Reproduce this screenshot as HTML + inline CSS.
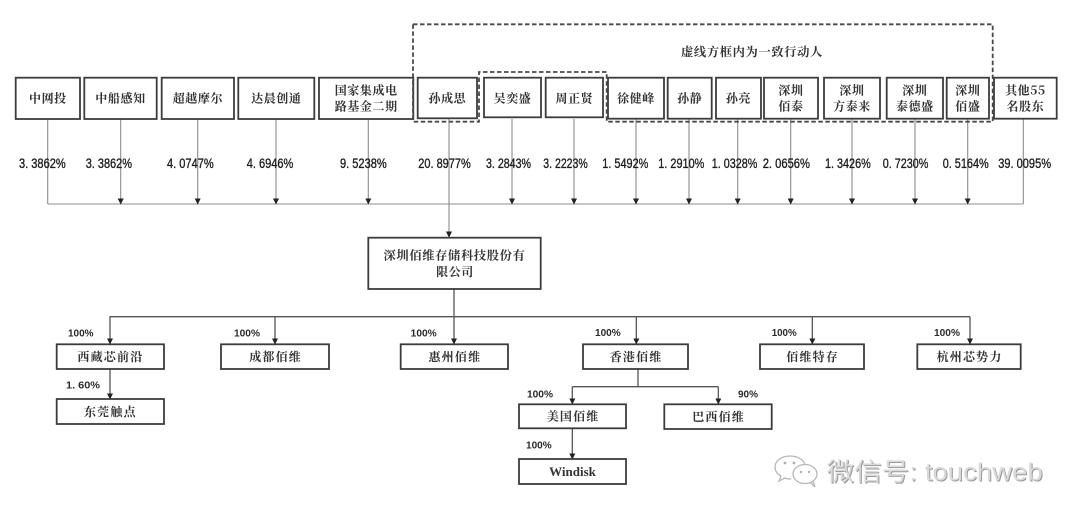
<!DOCTYPE html>
<html><head><meta charset="utf-8">
<style>
html,body{margin:0;padding:0;background:#fff;}
svg{display:block;}
.bx{font-family:"Noto Serif CJK SC","Liberation Serif",serif;font-weight:700;font-size:12px;fill:#333;letter-spacing:0.6px;}
.pc{font-family:"Liberation Sans",sans-serif;font-size:13.5px;fill:#1e1e1e;stroke:#1e1e1e;stroke-width:0.35px;}
.sm{font-family:"Liberation Sans",sans-serif;font-size:10px;font-weight:700;fill:#2a2a2a;}
.wm{font-family:"Liberation Sans","Noto Sans CJK SC",sans-serif;font-size:25px;}
</style></head>
<body>
<svg width="1080" height="520" viewBox="0 0 1080 520" xmlns="http://www.w3.org/2000/svg">
<rect width="1080" height="520" fill="#fff"/>

<!-- connector lines -->
<g stroke="#8c8c8c" stroke-width="1.1" fill="none">
  <line x1="47.7" y1="119" x2="47.7" y2="204"/>
  <line x1="120.7" y1="119" x2="120.7" y2="204"/>
  <line x1="197.7" y1="119" x2="197.7" y2="204"/>
  <line x1="276" y1="119" x2="276" y2="204"/>
  <line x1="368.3" y1="119" x2="368.3" y2="204"/>
  <line x1="449" y1="119" x2="449" y2="237"/>
  <line x1="512" y1="119" x2="512" y2="204"/>
  <line x1="574" y1="119" x2="574" y2="204"/>
  <line x1="636" y1="119" x2="636" y2="204"/>
  <line x1="689" y1="119" x2="689" y2="204"/>
  <line x1="737.7" y1="119" x2="737.7" y2="204"/>
  <line x1="790.7" y1="119" x2="790.7" y2="204"/>
  <line x1="852" y1="119" x2="852" y2="204"/>
  <line x1="915" y1="119" x2="915" y2="204"/>
  <line x1="967.7" y1="119" x2="967.7" y2="204"/>
  <line x1="1023.3" y1="119" x2="1023.3" y2="204"/>
  <line x1="47.7" y1="204" x2="1023.3" y2="204"/>
</g>
<g stroke="#555" stroke-width="1.3" fill="none">
  <line x1="454" y1="289" x2="454" y2="316.7"/>
  <line x1="109.5" y1="316.7" x2="970" y2="316.7"/>
  <line x1="110" y1="316.7" x2="110" y2="344"/>
  <line x1="275" y1="316.7" x2="275" y2="344"/>
  <line x1="454" y1="316.7" x2="454" y2="344"/>
  <line x1="636.3" y1="316.7" x2="636.3" y2="344"/>
  <line x1="812.3" y1="316.7" x2="812.3" y2="344"/>
  <line x1="970" y1="316.7" x2="970" y2="344"/>
  <line x1="110" y1="369" x2="110" y2="399"/>
  <line x1="638" y1="369" x2="638" y2="386.7"/>
  <line x1="572.3" y1="386.7" x2="718.3" y2="386.7"/>
  <line x1="572.3" y1="386.7" x2="572.3" y2="404"/>
  <line x1="718.3" y1="386.7" x2="718.3" y2="404"/>
  <line x1="572.3" y1="428.3" x2="572.3" y2="459"/>
</g>

<!-- arrowheads -->
<g fill="#222">
  <polygon points="117.7,198.5 123.7,198.5 120.7,204.5"/>
  <polygon points="194.7,198.5 200.7,198.5 197.7,204.5"/>
  <polygon points="273,198.5 279,198.5 276,204.5"/>
  <polygon points="365.3,198.5 371.3,198.5 368.3,204.5"/>
  <polygon points="509,198.5 515,198.5 512,204.5"/>
  <polygon points="571,198.5 577,198.5 574,204.5"/>
  <polygon points="633,198.5 639,198.5 636,204.5"/>
  <polygon points="686,198.5 692,198.5 689,204.5"/>
  <polygon points="734.7,198.5 740.7,198.5 737.7,204.5"/>
  <polygon points="787.7,198.5 793.7,198.5 790.7,204.5"/>
  <polygon points="849,198.5 855,198.5 852,204.5"/>
  <polygon points="912,198.5 918,198.5 915,204.5"/>
  <polygon points="964.7,198.5 970.7,198.5 967.7,204.5"/>
  <polygon points="446,231.5 452,231.5 449,237.7"/>
  <polygon points="107,338.5 113,338.5 110,344.5"/>
  <polygon points="272,338.5 278,338.5 275,344.5"/>
  <polygon points="451,338.5 457,338.5 454,344.5"/>
  <polygon points="633.3,338.5 639.3,338.5 636.3,344.5"/>
  <polygon points="809.3,338.5 815.3,338.5 812.3,344.5"/>
  <polygon points="967,338.5 973,338.5 970,344.5"/>
  <polygon points="107,393.5 113,393.5 110,399.5"/>
  <polygon points="569.3,398.5 575.3,398.5 572.3,404.5"/>
  <polygon points="715.3,398.5 721.3,398.5 718.3,404.5"/>
  <polygon points="569.3,453.5 575.3,453.5 572.3,459.5"/>
</g>

<!-- top boxes -->
<g fill="#fff" stroke="#3c3c3c" stroke-width="1.8">
  <rect x="15.7" y="77.7" width="64.3" height="41.3"/>
  <rect x="84.3" y="77.7" width="72.4" height="41.3"/>
  <rect x="161.7" y="77.7" width="72.3" height="41.3"/>
  <rect x="238.3" y="77.7" width="76" height="41.3"/>
  <rect x="319" y="77.7" width="94.3" height="41.3"/>
  <rect x="417.7" y="77.7" width="59.3" height="40.6"/>
  <rect x="484" y="77.7" width="57" height="39.6"/>
  <rect x="545.7" y="77.7" width="57.3" height="39.6"/>
  <rect x="608" y="77.7" width="56" height="41"/>
  <rect x="667.7" y="77.7" width="44" height="41"/>
  <rect x="716" y="77.7" width="45" height="41"/>
  <rect x="764" y="77.7" width="54" height="41"/>
  <rect x="824" y="77.7" width="56" height="41"/>
  <rect x="886.7" y="77.7" width="56.3" height="41"/>
  <rect x="946.7" y="77.7" width="42.3" height="41"/>
  <rect x="994" y="77.7" width="62.7" height="41"/>
</g>

<!-- dashed group outline -->
<path d="M413,24.3 H992.7 V121.7 H606.7 V72 H479 V121.7 H413 Z" fill="none" stroke="#4a4a4a" stroke-width="1.8" stroke-dasharray="4.5 2.5"/>

<!-- top box text -->
<g class="bx" text-anchor="middle">
  <text x="47.9" y="102.3">中网投</text>
  <text x="120.5" y="102.3">中船感知</text>
  <text x="197.9" y="102.3">超越摩尔</text>
  <text x="276.3" y="102.3">达晨创通</text>
  <text x="366.2" y="94.5">国家集成电</text>
  <text x="366.2" y="110.5">路基金二期</text>
  <text x="447.4" y="102.3">孙成思</text>
  <text x="512.5" y="102.3">吴奕盛</text>
  <text x="574.4" y="102.3">周正贤</text>
  <text x="636" y="102.3">徐健峰</text>
  <text x="689.7" y="102.3">孙静</text>
  <text x="738.5" y="102.3">孙亮</text>
  <text x="791" y="94.5">深圳</text>
  <text x="791" y="110.5">佰泰</text>
  <text x="852" y="94.5">深圳</text>
  <text x="852" y="110.5">方泰来</text>
  <text x="914.9" y="94.5">深圳</text>
  <text x="914.9" y="110.5">泰德盛</text>
  <text x="967.9" y="94.5">深圳</text>
  <text x="967.9" y="110.5">佰盛</text>
  <text x="1025.4" y="94.5">其他55</text>
  <text x="1025.4" y="110.5">名股东</text>
</g>

<text class="bx" x="681" y="56" textLength="142" lengthAdjust="spacingAndGlyphs">虚线方框内为一致行动人</text>

<!-- percentages -->
<g class="pc">
  <text x="19" y="167.8" textLength="46.7" lengthAdjust="spacingAndGlyphs">3. 3862%</text>
  <text x="85.7" y="167.8" textLength="46.3" lengthAdjust="spacingAndGlyphs">3. 3862%</text>
  <text x="167" y="167.8" textLength="46.7" lengthAdjust="spacingAndGlyphs">4. 0747%</text>
  <text x="246.7" y="167.8" textLength="46.6" lengthAdjust="spacingAndGlyphs">4. 6946%</text>
  <text x="340" y="167.8" textLength="46.7" lengthAdjust="spacingAndGlyphs">9. 5238%</text>
  <text x="418.3" y="167.8" textLength="52.4" lengthAdjust="spacingAndGlyphs">20. 8977%</text>
  <text x="486" y="167.8" textLength="45" lengthAdjust="spacingAndGlyphs">3. 2843%</text>
  <text x="543.3" y="167.8" textLength="44.4" lengthAdjust="spacingAndGlyphs">3. 2223%</text>
  <text x="602.3" y="167.8" textLength="46" lengthAdjust="spacingAndGlyphs">1. 5492%</text>
  <text x="658.3" y="167.8" textLength="46" lengthAdjust="spacingAndGlyphs">1. 2910%</text>
  <text x="711.7" y="167.8" textLength="45.6" lengthAdjust="spacingAndGlyphs">1. 0328%</text>
  <text x="762.7" y="167.8" textLength="47.3" lengthAdjust="spacingAndGlyphs">2. 0656%</text>
  <text x="825" y="167.8" textLength="45.7" lengthAdjust="spacingAndGlyphs">1. 3426%</text>
  <text x="882.7" y="167.8" textLength="45.6" lengthAdjust="spacingAndGlyphs">0. 7230%</text>
  <text x="942.7" y="167.8" textLength="46" lengthAdjust="spacingAndGlyphs">0. 5164%</text>
  <text x="998.3" y="167.8" textLength="52.7" lengthAdjust="spacingAndGlyphs">39. 0095%</text>
</g>

<!-- company box -->
<rect x="368.3" y="237.7" width="172.4" height="51.3" fill="#fff" stroke="#3c3c3c" stroke-width="1.8"/>
<g class="bx" text-anchor="middle">
  <text x="454.5" y="259.5" textLength="142" lengthAdjust="spacingAndGlyphs">深圳佰维存储科技股份有</text>
  <text x="455" y="276">限公司</text>
</g>

<!-- subsidiaries -->
<g fill="#fff" stroke="#3c3c3c" stroke-width="1.8">
  <rect x="56.7" y="344.3" width="107.3" height="24.7"/>
  <rect x="221" y="344.3" width="108" height="24.7"/>
  <rect x="400.7" y="344.3" width="107.3" height="24.7"/>
  <rect x="583" y="344.3" width="105" height="24.7"/>
  <rect x="760" y="344.3" width="104" height="24.7"/>
  <rect x="917.3" y="344.3" width="103.4" height="24.7"/>
  <rect x="56.7" y="399" width="107.3" height="25"/>
  <rect x="519" y="404.3" width="107" height="24"/>
  <rect x="664.3" y="404.3" width="107.4" height="24.7"/>
  <rect x="519" y="459" width="107" height="25"/>
</g>
<g class="bx" text-anchor="middle" style="letter-spacing:1.2px">
  <text x="110.4" y="361">西藏芯前沿</text>
  <text x="275.6" y="361">成都佰维</text>
  <text x="454.9" y="361">惠州佰维</text>
  <text x="636.1" y="361">香港佰维</text>
  <text x="812.6" y="361">佰维特存</text>
  <text x="969.6" y="361">杭州芯势力</text>
  <text x="110.4" y="416">东莞触点</text>
  <text x="573.1" y="420.5">美国佰维</text>
  <text x="718.6" y="421">巴西佰维</text>
</g>
<text x="572.5" y="476" text-anchor="middle" style="font-family:'Liberation Serif',serif;font-weight:700;font-size:13px;fill:#333;">Windisk</text>

<g class="sm">
  <text x="68" y="336.5" textLength="25.5" lengthAdjust="spacingAndGlyphs">100%</text>
  <text x="234" y="336.5" textLength="26" lengthAdjust="spacingAndGlyphs">100%</text>
  <text x="410.7" y="336.5" textLength="26" lengthAdjust="spacingAndGlyphs">100%</text>
  <text x="595" y="336" textLength="25.7" lengthAdjust="spacingAndGlyphs">100%</text>
  <text x="771.7" y="336" textLength="25" lengthAdjust="spacingAndGlyphs">100%</text>
  <text x="934" y="336" textLength="26" lengthAdjust="spacingAndGlyphs">100%</text>
  <text x="66" y="388.5" textLength="34" lengthAdjust="spacingAndGlyphs">1. 60%</text>
  <text x="527" y="397.5" textLength="26" lengthAdjust="spacingAndGlyphs">100%</text>
  <text x="738" y="397.5" textLength="20" lengthAdjust="spacingAndGlyphs">90%</text>
  <text x="526" y="448.5" textLength="25.7" lengthAdjust="spacingAndGlyphs">100%</text>
</g>

<!-- watermark -->
<g fill="none" stroke="#b8b8b8" stroke-width="1.3">
  <path d="M790,456 C780,456 775,462 775,467 C775,471 777,474 781,476 L779,481 L785,478 C787,479 789,479 791,479"/>
  <path d="M790,456 C799,456 805,461 805,466"/>
  <ellipse cx="805" cy="474" rx="12" ry="9.5" fill="#fff"/>
  <path d="M810,482 L815,487 L813,481"/>
</g>
<g fill="#b0b0b0">
  <circle cx="785" cy="463" r="1.4"/><circle cx="794" cy="463" r="1.4"/>
  <circle cx="801" cy="472" r="1.2"/><circle cx="809" cy="472" r="1.2"/>
</g>
<text class="wm" x="827.7" y="481.7" fill="#9a9a9a" textLength="216" lengthAdjust="spacingAndGlyphs">微信号: touchweb</text>
<text class="wm" x="826.7" y="480.7" fill="#dadada" textLength="216" lengthAdjust="spacingAndGlyphs">微信号: touchweb</text>
</svg>
</body></html>
